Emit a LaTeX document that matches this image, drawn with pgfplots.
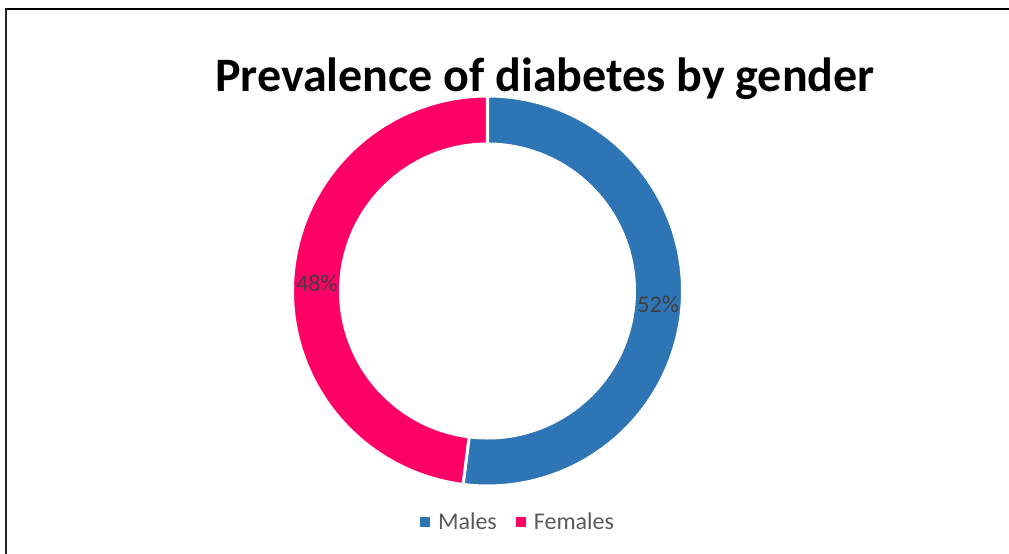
\documentclass[border=0pt]{standalone}
\usepackage{pgfplots}
\pgfplotsset{compat=1.18}
\usepackage{pgfplotstable}
\usepackage{fontspec}
\setmainfont{Carlito}

\definecolor{maleblue}{HTML}{2E75B6}
\definecolor{femalepink}{HTML}{FF0066}
\definecolor{labelgray}{HTML}{404040}
\definecolor{legendgray}{HTML}{595959}

\pgfplotstableread{
gender  share
Males   52
Females 48
}\sharetable

\begin{document}
\begin{tikzpicture}
\pgfplotstablegetelem{0}{share}\of\sharetable \let\males\pgfplotsretval
\pgfplotstablegetelem{1}{share}\of\sharetable \let\females\pgfplotsretval
\pgfmathsetmacro\total{\males+\females}
% segments run clockwise from 12 o'clock
\pgfmathsetmacro\mEnd{90-360*(\males/\total)}
\pgfmathsetmacro\fEnd{\mEnd-360*(\females/\total)}
\pgfmathsetmacro\mMid{(90+\mEnd)/2}
\pgfmathsetmacro\fMid{(\mEnd+\fEnd)/2}
\pgfmathtruncatemacro\mPct{round(100*(\males/\total))}
\pgfmathtruncatemacro\fPct{round(100*(\females/\total))}
\def\Ro{195pt}
\def\Ri{147pt}
\def\Rl{171pt}
\begin{axis}[
  width=1009pt, height=554pt, scale only axis,
  xmin=0, xmax=1009, ymin=0, ymax=554,
  hide axis, clip=false,
  legend style={at={(axis cs:518,32)}, anchor=center, draw=none, fill=none,
    font=\fontsize{24}{24}\selectfont\color{legendgray},
    legend columns=-1,
    /tikz/every odd column/.append style={column sep=6pt},
    /tikz/every even column/.append style={column sep=17pt}},
  legend image code/.code={
    \fill[#1, draw=none] (0pt,-5pt) rectangle (10pt,5pt);},
]
% frame
\draw[line width=2pt, black!85] (axis cs:6,0) -- (axis cs:6,545);
\draw[line width=1.5pt, black] (axis cs:5,545) -- (axis cs:1009,545);

% title
\node[anchor=base, font=\fontsize{48}{48}\selectfont\bfseries] at (axis cs:545,462)
  {Prevalence of diabetes by gender};

% ring segments
\fill[maleblue, draw=white, line width=3pt, shift={(axis cs:487.5,263)}]
  (90:\Ro) arc[start angle=90, end angle=\mEnd, radius=\Ro]
  -- (\mEnd:\Ri) arc[start angle=\mEnd, end angle=90, radius=\Ri] -- cycle;
\fill[femalepink, draw=white, line width=3pt, shift={(axis cs:487.5,263)}]
  (\mEnd:\Ro) arc[start angle=\mEnd, end angle=\fEnd, radius=\Ro]
  -- (\fEnd:\Ri) arc[start angle=\fEnd, end angle=\mEnd, radius=\Ri] -- cycle;

% value labels
\node[labelgray, font=\fontsize{24}{24}\selectfont, shift={(axis cs:487.5,260)}]
  at (\mMid:\Rl) {\mPct\%};
\node[labelgray, font=\fontsize{24}{24}\selectfont, shift={(axis cs:487.5,260)}]
  at (\fMid:\Rl) {\fPct\%};

\addlegendimage{maleblue}
\addlegendentry{Males}
\addlegendimage{femalepink}
\addlegendentry{Females}
\end{axis}
\pgfresetboundingbox
\useasboundingbox (current axis.south west) rectangle (current axis.north east);
\end{tikzpicture}
\end{document}
